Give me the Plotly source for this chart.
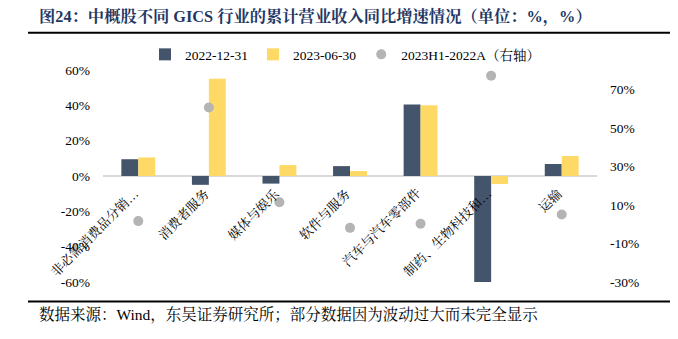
import plotly.graph_objects as go

categories = ["非必需消费品分销…", "消费者服务", "媒体与娱乐", "软件与服务",
              "汽车与汽车零部件", "制药、生物科技和…", "运输"]
s2022 = [9.5, -5.0, -4.3, 5.6, 40.5, -80.0, 6.8]
s2023 = [10.5, 55.0, 6.2, 2.8, 40.0, -4.5, 11.3]
growth = [1.6, 60.5, 11.4, -1.9, 0.2, 77.0, 5.0]
left_ticks = [-60, -40, -20, 0, 20, 40, 60]
right_ticks = [-30, -10, 10, 30, 50, 70]

W, H = 678, 339
L, R, T, B = 103, 597, 69.5, 282.5
FONT = "Liberation Serif, Noto Serif CJK SC, Noto Sans CJK SC, serif"

def px(x):
    return (x - L) / (R - L)

def py(y):
    return (B - y) / (B - T)

fig = go.Figure()
fig.add_trace(go.Bar(name="2022-12-31", x=categories, y=s2022,
                     marker=dict(color="#44546A", line=dict(width=0))))
fig.add_trace(go.Bar(name="2023-06-30", x=categories, y=s2023,
                     marker=dict(color="#FFD966", line=dict(width=0))))
fig.add_trace(go.Scatter(name="2023H1-2022A（右轴）", x=categories, y=growth,
                         yaxis="y2", mode="markers",
                         marker=dict(color="#B4B4B4", size=10)))

annotations = [
    dict(text="<b>图24：中概股不同 GICS 行业的累计营业收入同比增速情况（单位：%，%）</b>",
         xref="paper", yref="paper", x=px(37), y=py(16), xanchor="left", yanchor="middle",
         showarrow=False, font=dict(size=16.3, color="#1F3864", family=FONT)),
    dict(text="数据来源：Wind，东吴证券研究所；部分数据因为波动过大而未完全显示",
         xref="paper", yref="paper", x=px(37), y=py(316), xanchor="left", yanchor="middle",
         showarrow=False, font=dict(size=15.5, color="#000000", family=FONT)),
]
for c in categories:
    annotations.append(dict(text=c, x=c, y=0, xref="x", yref="y", xanchor="right",
                            yanchor="top", textangle=-45, showarrow=False,
                            xshift=6, yshift=-7,
                            font=dict(size=13, color="#000000", family=FONT)))

shapes = [
    dict(type="line", xref="paper", yref="paper", x0=px(28), x1=px(670),
         y0=py(32), y1=py(32), line=dict(color="#000000", width=2)),
    dict(type="line", xref="paper", yref="paper", x0=px(28), x1=px(670),
         y0=py(302), y1=py(302), line=dict(color="#000000", width=2)),
]

fig.update_layout(
    width=W, height=H,
    margin=dict(l=L, r=W - R, t=T, b=H - B, pad=0),
    paper_bgcolor="white", plot_bgcolor="white",
    barmode="group", bargap=0.52, bargroupgap=0,
    font=dict(family=FONT, size=13, color="#000000"),
    showlegend=True,
    legend=dict(orientation="h", x=px(345), y=py(54), xanchor="center", yanchor="middle",
                font=dict(size=13.5, family=FONT), itemwidth=30, tracegroupgap=0,
                bgcolor="rgba(0,0,0,0)"),
    xaxis=dict(range=[-0.5, len(categories) - 0.5], autorange=False,
               showticklabels=False, showgrid=False, showline=False, ticks="",
               zeroline=False),
    yaxis=dict(range=[-60, 60], autorange=False, tickvals=left_ticks,
               ticktext=[f"{v}%" for v in left_ticks], showgrid=False,
               zeroline=True, zerolinecolor="#D9D9D9", zerolinewidth=2,
               showline=False, ticks="", ticklabelstandoff=12,
               tickfont=dict(size=13.5, family=FONT)),
    yaxis2=dict(range=[-30, 80], autorange=False, tickvals=right_ticks,
                ticktext=[f"{v}%" for v in right_ticks], overlaying="y", side="right",
                showgrid=False, zeroline=False, showline=False, ticks="",
                ticklabelstandoff=12, tickfont=dict(size=13.5, family=FONT)),
    annotations=annotations,
    shapes=shapes,
)

fig.write_html("out.html")
